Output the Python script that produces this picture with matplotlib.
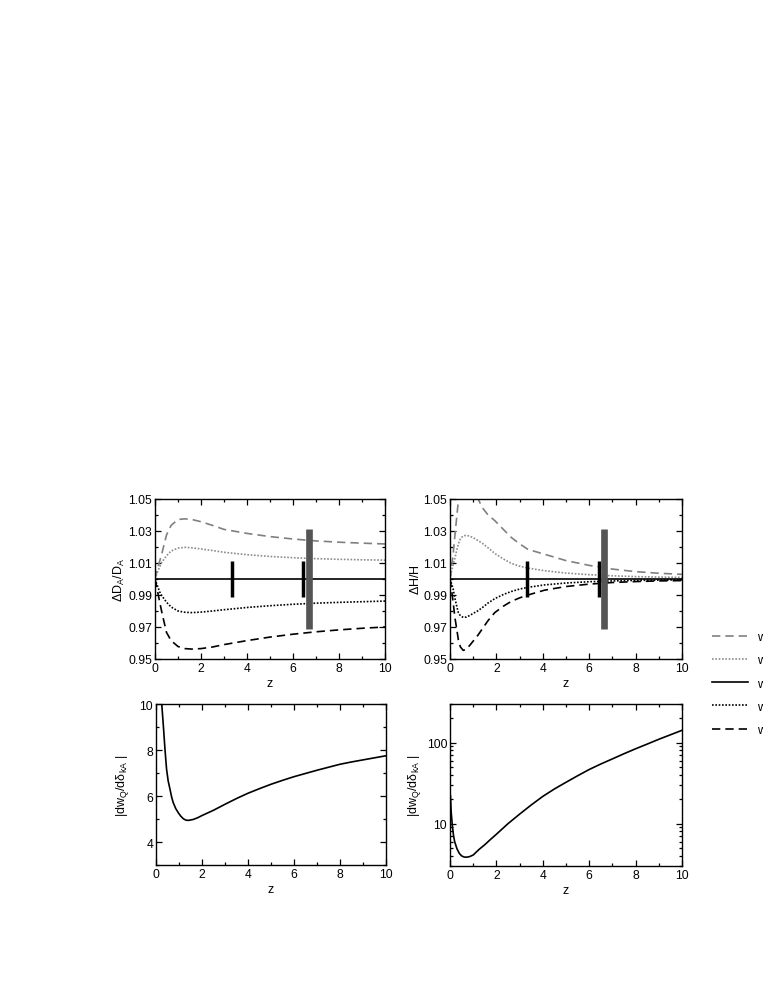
import matplotlib
matplotlib.use("Agg")
import matplotlib.pyplot as plt
from matplotlib.ticker import MultipleLocator, NullFormatter, FixedLocator, FixedFormatter, LogLocator

plt.rcParams['font.family'] = ['Liberation Sans', 'DejaVu Sans']
plt.rcParams['mathtext.fontset'] = 'custom'
plt.rcParams['mathtext.rm'] = 'Liberation Sans'
plt.rcParams['mathtext.it'] = 'Liberation Sans'
plt.rcParams['mathtext.sf'] = 'Liberation Sans'

# ---------------- data ----------------
labels = ["w$_Q$ = -0.8", "w$_Q$ = -0.9", "w$_Q$ = -1.0", "w$_Q$ = -1.1", "w$_Q$ = -1.2"]

# top-left: Delta D_A / D_A
z_da = [0, 0.1, 0.2, 0.3, 0.5, 0.7, 1.0, 1.3, 1.6, 2, 2.5, 3, 4, 5, 6, 7, 8, 9, 10]
da_gray_dash = [1.0, 1.006, 1.011, 1.016, 1.0275, 1.0335, 1.0372, 1.0376, 1.0372, 1.0358, 1.0335, 1.0310,
                1.0285, 1.0265, 1.0250, 1.0238, 1.0230, 1.0224, 1.0219]
da_gray_dot = [1.0, 1.004, 1.0075, 1.0105, 1.0145, 1.0175, 1.0193, 1.0198, 1.0195, 1.0188, 1.0178, 1.0167,
               1.0152, 1.0141, 1.0133, 1.0127, 1.0123, 1.0120, 1.0118]
da_solid = [1.0] * len(z_da)
da_black_dot = [1.0, 0.996, 0.992, 0.9895, 0.9855, 0.9825, 0.9800, 0.9792, 0.9790, 0.9793, 0.9800, 0.9808,
                0.9822, 0.9833, 0.9842, 0.9849, 0.9854, 0.9858, 0.9862]
da_black_dash = [1.0, 0.993, 0.986, 0.979, 0.9666, 0.9615, 0.9578, 0.9565, 0.9562, 0.9565, 0.9575, 0.9590,
                 0.9615, 0.9637, 0.9655, 0.9670, 0.9682, 0.9692, 0.9700]

# top-right: Delta H / H
z_h = [0, 0.07, 0.14, 0.21, 0.29, 0.36, 0.45, 0.57, 0.7, 0.85, 1.0, 1.21, 1.4, 1.64, 1.93, 2.3, 2.64,
       3.0, 3.36, 4.07, 5, 6, 7, 8, 9, 10]
h_gray_dash = [1.0, 1.008, 1.016, 1.027, 1.0386, 1.049, 1.058, 1.064, 1.066, 1.064, 1.059, 1.050, 1.0445,
               1.040, 1.0365, 1.031, 1.026, 1.022, 1.0185, 1.0155, 1.0115, 1.0085, 1.0062, 1.0046, 1.0036, 1.0029]
h_gray_dot = [1.0, 1.005, 1.009, 1.013, 1.018, 1.022, 1.0252, 1.0270, 1.0273, 1.0268, 1.0258, 1.0240,
              1.0222, 1.0195, 1.0160, 1.0125, 1.0098, 1.0080, 1.0068, 1.0052, 1.0037, 1.0027, 1.0020,
              1.0015, 1.0012, 1.0010]
h_solid = [1.0] * len(z_h)
h_black_dot = [1.0, 0.997, 0.9934, 0.988, 0.983, 0.979, 0.9770, 0.9760, 0.9762, 0.9772, 0.9785, 0.9802,
               0.9822, 0.9850, 0.9877, 0.9903, 0.9922, 0.9937, 0.9948, 0.9963, 0.9975, 0.9983, 0.9988,
               0.9991, 0.9993, 0.9995]
h_black_dash = [1.0, 0.993, 0.985, 0.976, 0.9688, 0.962, 0.9575, 0.9554, 0.9560, 0.9585, 0.9612, 0.9650,
                0.9690, 0.9740, 0.9790, 0.9830, 0.9860, 0.9882, 0.9900, 0.9930, 0.9953, 0.9968, 0.9978,
                0.9984, 0.9988, 0.9990]

# error bars
bar_black_z = [3.33, 6.45]
bar_black_half = 0.011
bar_gray_z = [6.68]
bar_gray_half = 0.031
barh_black_z = [3.30, 6.42]
barh_gray_z = [6.62]

# bottom-left |dw_Q / d delta_kA| (linear)
z_bl = [0.22, 0.25, 0.32, 0.39, 0.46, 0.53, 0.61, 0.68, 0.75, 0.86, 0.97, 1.08, 1.19, 1.3, 1.41, 1.62,
        1.8, 2, 2.5, 3, 3.5, 4, 4.5, 5, 5.5, 6, 6.5, 7, 7.5, 8, 8.5, 9, 9.5, 10]
w_bl = [10.8, 10.0, 9.05, 8.03, 7.16, 6.65, 6.29, 5.95, 5.71, 5.45, 5.27, 5.12, 5.01, 4.95, 4.94, 4.98,
        5.05, 5.15, 5.38, 5.64, 5.89, 6.12, 6.32, 6.51, 6.68, 6.84, 6.98, 7.12, 7.25, 7.38, 7.48, 7.57,
        7.66, 7.75]

# bottom-right |dw_Q / d delta_kA| (log)
z_br = [0.02, 0.05, 0.1, 0.15, 0.2, 0.3, 0.4, 0.5, 0.6, 0.7, 0.85, 1.0, 1.25, 1.5, 1.75, 2, 2.5, 3, 3.5, 4,
        4.5, 5, 5.5, 6, 6.5, 7, 7.5, 8, 8.5, 9, 9.5, 10]
w_br = [22, 14, 9.5, 7.2, 6.0, 4.9, 4.3, 4.0, 3.88, 3.85, 3.92, 4.1, 4.8, 5.5, 6.4, 7.4, 10.0, 13.1, 17.0,
        21.7, 26.8, 32.4, 39.0, 46.6, 54.5, 63, 73, 84, 96, 110, 125, 142]

# ---------------- figure ----------------
W, H = 763, 987
fig = plt.figure(figsize=(W / 100, H / 100), dpi=100)

def ax_at(l, t, r, b):
    return fig.add_axes([l / W, 1 - b / H, (r - l) / W, (b - t) / H])

ax1 = ax_at(155, 500, 385, 660)
ax2 = ax_at(450, 500, 682, 660)
ax3 = ax_at(156, 705, 386, 866)
ax4 = ax_at(450, 705, 682, 867)

gray = '#808080'
gray_dot = '#8c8c8c'
dash = (0, (5, 3))
dot = (0, (1, 1))
lw = 1.2
styles = [dict(color=gray, ls=dash, lw=lw),
          dict(color=gray_dot, ls=dot, lw=lw),
          dict(color='black', ls='-', lw=lw),
          dict(color='black', ls=dot, lw=lw),
          dict(color='black', ls=dash, lw=lw)]

handles = []
for ys, st, lab in zip([da_gray_dash, da_gray_dot, da_solid, da_black_dot, da_black_dash], styles, labels):
    h, = ax1.plot(z_da, ys, label=lab, **st)
    handles.append(h)
for ys, st in zip([h_gray_dash, h_gray_dot, h_solid, h_black_dot, h_black_dash], styles):
    ax2.plot(z_h, ys, **st)

for ax, bz, gz in [(ax1, bar_black_z, bar_gray_z), (ax2, barh_black_z, barh_gray_z)]:
    ax.vlines(bz, 1 - bar_black_half, 1 + bar_black_half, color='black', lw=2.5, capstyle='butt', zorder=4)
    ax.vlines(gz, 1 - bar_gray_half, 1 + bar_gray_half, color='#555555', lw=4.8, capstyle='butt', zorder=5)

for ax in (ax1, ax2):
    ax.set_xlim(0, 10)
    ax.set_ylim(0.95, 1.05)
    ax.yaxis.set_major_locator(FixedLocator([0.95, 0.97, 0.99, 1.01, 1.03, 1.05]))
    ax.yaxis.set_major_formatter(FixedFormatter(['0.95', '0.97', '0.99', '1.01', '1.03', '1.05']))
    ax.yaxis.set_minor_locator(MultipleLocator(0.01))

ax1.set_ylabel(r'$\Delta\mathrm{D_A/D_A}$', fontsize=9, labelpad=1)
ax2.set_ylabel(r'$\Delta\mathrm{H/H}$', fontsize=9, labelpad=1)

ax3.plot(z_bl, w_bl, color='black', lw=lw)
ax3.set_xlim(0, 10)
ax3.set_ylim(3, 10)
ax3.yaxis.set_major_locator(FixedLocator([4, 6, 8, 10]))
ax3.yaxis.set_minor_locator(MultipleLocator(1))

ax4.plot(z_br, w_br, color='black', lw=lw)
ax4.set_xlim(0, 10)
ax4.set_yscale('log')
ax4.set_ylim(3, 300)
ax4.yaxis.set_major_locator(FixedLocator([10, 100]))
ax4.yaxis.set_major_formatter(FixedFormatter(['10', '100']))
ax4.yaxis.set_minor_locator(LogLocator(base=10, subs=range(2, 10)))
ax4.yaxis.set_minor_formatter(NullFormatter())

ylab = r'$|\mathrm{dw_Q/d\delta_{kA}}\ |$'
ax3.set_ylabel(ylab, fontsize=9, labelpad=6)
ax4.set_ylabel(ylab, fontsize=9, labelpad=3)

for ax in (ax1, ax2, ax3, ax4):
    ax.xaxis.set_major_locator(MultipleLocator(2))
    ax.xaxis.set_minor_locator(MultipleLocator(1))
    ax.set_xlabel('z', fontsize=9, labelpad=2)
    ax.tick_params(which='both', direction='in', top=True, right=True, labelsize=8.7, pad=2)
    ax.tick_params(which='major', length=4, width=0.9)
    ax.tick_params(which='minor', length=2.5, width=0.9)
    for s in ax.spines.values():
        s.set_linewidth(1.0)

fig.legend(handles=handles, labels=labels, loc='upper left',
           bbox_to_anchor=(712 / W, 1 - 630 / H), bbox_transform=fig.transFigure,
           frameon=False, fontsize=9, handlelength=2.9, handletextpad=0.72,
           labelspacing=0.5, borderpad=0, borderaxespad=0)

fig.savefig('out.png', dpi=100)
